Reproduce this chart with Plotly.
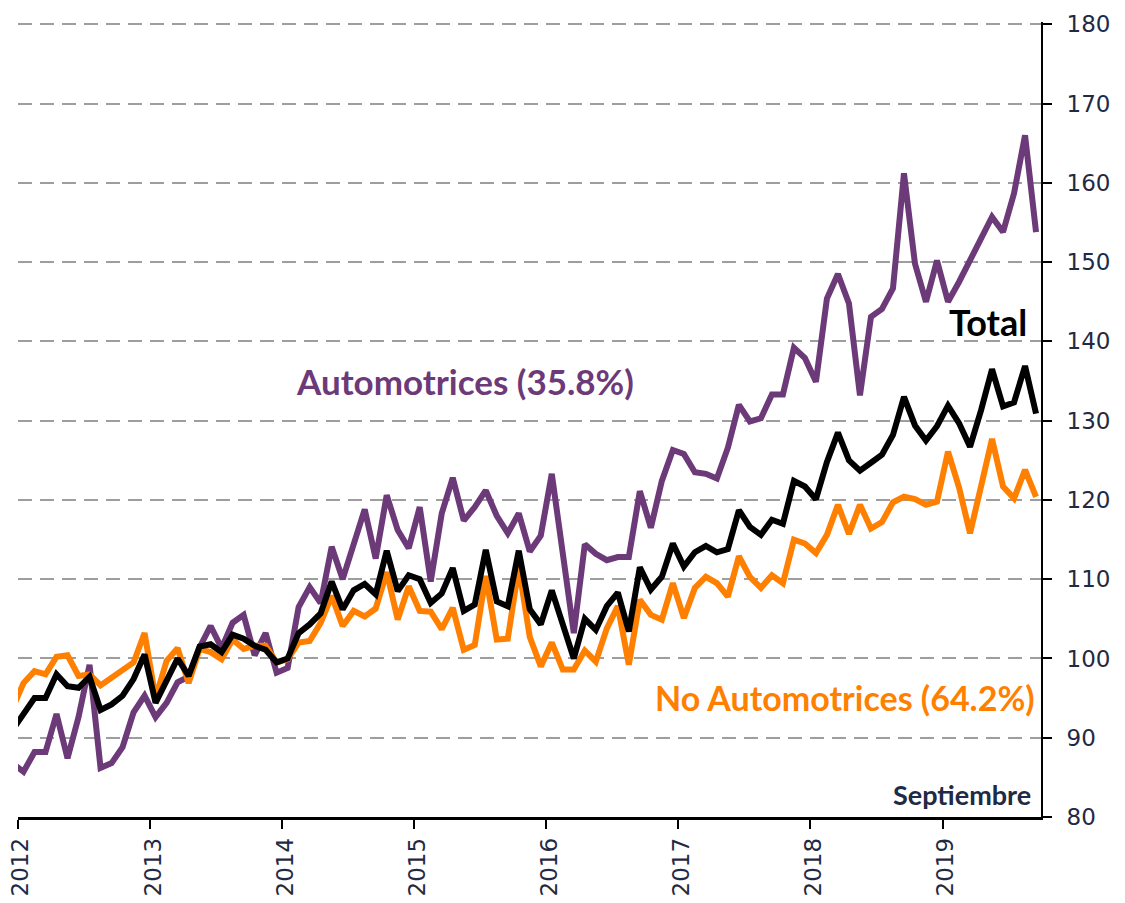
import plotly.graph_objects as go

# Monthly index, Dec-2011 .. Sep-2019 (first point falls just left of the plot and is clipped)
months = list(range(-1, 93))

automotrices = [
    86.8,
    85.7, 88.2, 88.2, 93.0, 87.4, 92.6, 99.2, 86.2, 86.8, 88.8, 93.2, 95.3,
    92.6, 94.4, 97.0, 97.7, 101.4, 104.1, 101.3, 104.5, 105.5, 100.4, 103.2, 98.2,
    98.8, 106.5, 109.0, 107.0, 114.1, 110.0, 114.6, 118.8, 112.6, 120.6, 116.2, 113.9,
    119.1, 109.7, 118.3, 122.8, 117.4, 119.1, 121.2, 118.0, 115.8, 118.3, 113.5, 115.5,
    123.3, 113.4, 103.2, 114.4, 113.2, 112.4, 112.8, 112.8, 121.1, 116.5, 122.4, 126.3,
    125.8, 123.5, 123.3, 122.7, 126.6, 132.0, 129.9, 130.3, 133.3, 133.3, 139.2, 137.9,
    134.9, 145.4, 148.5, 144.8, 133.2, 143.1, 144.1, 146.7, 161.2, 149.8, 145.0, 150.2,
    145.0, 147.5, 150.2, 153.0, 155.7, 153.8, 158.7, 166.0, 153.8,
]

total = [
    91.0,
    93.1, 95.0, 95.0, 98.0, 96.5, 96.3, 97.7, 93.5, 94.2, 95.3, 97.4, 100.5,
    94.4, 97.1, 100.0, 97.8, 101.5, 101.8, 100.8, 103.0, 102.5, 101.6, 101.1, 99.5,
    100.0, 103.2, 104.3, 105.7, 109.7, 106.2, 108.6, 109.4, 108.1, 113.6, 108.5, 110.5,
    110.0, 107.0, 108.2, 111.4, 106.0, 106.8, 113.7, 107.2, 106.6, 113.6, 106.2, 104.3,
    108.6, 104.3, 100.0, 105.0, 103.6, 106.6, 108.3, 103.4, 111.5, 108.7, 110.3, 114.5,
    111.6, 113.4, 114.2, 113.4, 113.8, 118.7, 116.6, 115.6, 117.5, 117.0, 122.4, 121.7,
    120.1, 124.8, 128.5, 125.0, 123.7, 124.7, 125.7, 128.2, 133.0, 129.4, 127.5, 129.3,
    131.9, 129.7, 126.7, 131.3, 136.5, 131.8, 132.3, 136.9, 130.9,
]

no_automotrices = [
    93.7,
    96.9, 98.4, 98.0, 100.2, 100.4, 97.8, 98.0, 96.6, 97.6, 98.5, 99.5, 103.2,
    95.0, 99.7, 101.3, 96.9, 101.2, 100.8, 99.9, 102.4, 101.2, 101.6, 101.6, 99.5,
    99.9, 102.0, 102.2, 104.5, 107.9, 104.1, 106.0, 105.3, 106.3, 110.9, 104.9, 109.1,
    106.0, 105.9, 103.7, 106.4, 101.1, 101.7, 110.4, 102.4, 102.5, 111.5, 102.7, 99.0,
    102.0, 98.6, 98.6, 101.0, 99.6, 103.8, 106.6, 99.2, 107.4, 105.5, 104.9, 109.5,
    105.1, 108.9, 110.3, 109.5, 107.8, 112.9, 110.3, 108.9, 110.5, 109.5, 115.0, 114.5,
    113.3, 115.6, 119.4, 115.7, 119.4, 116.4, 117.2, 119.7, 120.4, 120.1, 119.4, 119.8,
    126.1, 121.6, 115.8, 121.7, 127.7, 121.7, 120.2, 123.8, 120.4,
]

years = ["2012", "2013", "2014", "2015", "2016", "2017", "2018", "2019"]
year_ticks = [12 * i - 0.5 for i in range(len(years))]

PURPLE = "#6C3A78"
ORANGE = "#FF7F00"
NAVY = "#1F2A44"

fig = go.Figure()
fig.add_trace(go.Scatter(x=months, y=automotrices, mode="lines",
                         line=dict(color=PURPLE, width=6), name="Automotrices"))
fig.add_trace(go.Scatter(x=months, y=no_automotrices, mode="lines",
                         line=dict(color=ORANGE, width=6), name="No Automotrices"))
fig.add_trace(go.Scatter(x=months, y=total, mode="lines",
                         line=dict(color="#000000", width=6), name="Total"))

label_font = "Lato, Carlito, Calibri, sans-serif"
fig.add_annotation(x=40.1, y=135.0, text="<b>Automotrices (35.8%)</b>", showarrow=False,
                   font=dict(family=label_font, size=35, color=PURPLE))
fig.add_annotation(x=87.6, y=142.4, text="<b>Total</b>", showarrow=False,
                   font=dict(family=label_font, size=36, color="#000000"))
fig.add_annotation(x=74.6, y=95.1, text="<b>No Automotrices (64.2%)</b>", showarrow=False,
                   font=dict(family=label_font, size=34, color=ORANGE))
fig.add_annotation(x=85.3, y=82.8, text="<b>Septiembre</b>", showarrow=False,
                   font=dict(family=label_font, size=27, color=NAVY))

fig.update_layout(
    width=1125, height=903,
    margin=dict(l=10, r=92, t=14, b=94),
    paper_bgcolor="white", plot_bgcolor="white",
    showlegend=False,
    xaxis=dict(
        range=[-0.5, 92.45], automargin=False,
        tickmode="array", tickvals=year_ticks, ticktext=years,
        tickangle=-90, ticklabeloverflow="allow", ticklabelshift=3,
        ticks="outside", ticklen=9, tickwidth=2, tickcolor="#000000",
        showline=True, linecolor="#000000", linewidth=2.5,
        showgrid=False, zeroline=False,
        tickfont=dict(family="DejaVu Sans, Verdana, sans-serif", size=23, color=NAVY),
    ),
    yaxis=dict(
        range=[80, 180.3], side="right", automargin=False,
        tickmode="linear", tick0=80, dtick=10,
        ticks="outside", ticklen=9, tickwidth=2, tickcolor="#000000",
        ticklabelstandoff=10, ticklabeloverflow="allow",
        showline=True, linecolor="#000000", linewidth=2,
        showgrid=True, gridcolor="#9E9E9E", gridwidth=2, griddash="14px,8px",
        zeroline=False,
        tickfont=dict(family="DejaVu Sans, Verdana, sans-serif", size=23, color=NAVY),
    ),
)

fig.write_html("out.html")
